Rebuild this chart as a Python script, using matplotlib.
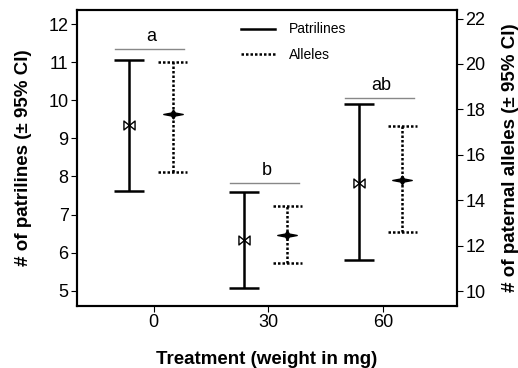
import matplotlib.pyplot as plt
import numpy as np
from matplotlib.path import Path
from matplotlib.lines import Line2D

plt.rcParams['font.family'] = ['Liberation Sans', 'DejaVu Sans']

# data
treatments = [0, 30, 60]
pat_mean = [9.34, 6.32, 7.83]
pat_low = [7.61, 5.07, 5.80]
pat_high = [11.06, 7.59, 9.89]
all_mean = [17.78, 12.46, 14.91]
all_low = [15.23, 11.22, 12.58]
all_high = [20.10, 13.74, 17.27]
letters = ['a', 'b', 'ab']
letter_y = [11.34, 7.84, 10.07]

# marker shapes
bowtie = Path([(-1, -0.8), (1, 0.8), (1, -0.8), (-1, 0.8), (-1, -0.8)],
              [Path.MOVETO, Path.LINETO, Path.LINETO, Path.LINETO, Path.CLOSEPOLY])
star4 = Path([(-1, 0), (-0.2, 0.15), (0, 0.45), (0.2, 0.15), (1, 0),
              (0.2, -0.15), (0, -0.45), (-0.2, -0.15), (-1, 0)],
             [Path.MOVETO] + [Path.LINETO] * 7 + [Path.CLOSEPOLY])

fig = plt.figure(figsize=(5.18, 3.68), dpi=100)
ax = fig.add_axes([0.1486, 0.1685, 0.7336, 0.8045])
ax2 = ax.twinx()

x = np.array(treatments, dtype=float)
pm = np.array(pat_mean)
am = np.array(all_mean)
dots = (0, (1, 0.8))

# patrilines, solid
ax.errorbar(x - 6.3, pm, yerr=[pm - np.array(pat_low), np.array(pat_high) - pm],
            fmt='none', ecolor='black', elinewidth=1.8, capsize=10.5, capthick=1.8)
ax.plot(x - 6.3, pm, linestyle='none', marker=bowtie, markersize=8,
        markerfacecolor='white', markeredgecolor='black', markeredgewidth=1.0, zorder=5)

# alleles, dotted (caps drawn as short dotted lines)
for xi, lo, hi in zip(x + 5, all_low, all_high):
    ax2.plot([xi, xi], [lo, hi], color='black', lw=1.8, linestyle=dots)
    ax2.plot([xi - 3.8, xi + 3.8], [lo, lo], color='black', lw=1.8, linestyle=dots)
    ax2.plot([xi - 3.8, xi + 3.8], [hi, hi], color='black', lw=1.8, linestyle=dots)
ax2.plot(x + 5, am, linestyle='none', marker=star4, markersize=14,
         markerfacecolor='black', markeredgecolor='black', zorder=5)

# significance groups
for xi, ly, lt in zip(x, letter_y, letters):
    ax.plot([xi - 10, xi + 8], [ly, ly], color='#888888', lw=1.0)
    ax.text(xi - 0.5, ly + 0.1, lt, ha='center', va='bottom', fontsize=13)

ax.set_xlim(-20, 79.3)
ax.set_ylim(4.6, 12.37)
ax2.set_ylim(9.34, 22.38)
ax.set_xticks(treatments)
ax.set_yticks(range(5, 13))
ax2.set_yticks(range(10, 23, 2))

for a in (ax, ax2):
    a.tick_params(direction='out', length=4, width=0.8, labelsize=13, pad=2)
    for s in a.spines.values():
        s.set_linewidth(1.5)

ax.set_xlabel('Treatment (weight in mg)', fontsize=13.5, fontweight='bold', labelpad=14)
ax.set_ylabel('# of patrilines (± 95% CI)', fontsize=13.5, fontweight='bold', labelpad=12)
ax2.set_ylabel('# of paternal alleles (± 95% CI)', fontsize=13.5, fontweight='bold', labelpad=12)

handles = [Line2D([], [], color='black', lw=1.8),
           Line2D([], [], color='black', lw=1.8, linestyle=dots)]
ax.legend(handles, ['Patrilines', 'Alleles'], loc='upper left', bbox_to_anchor=(0.40, 1.0),
          frameon=False, fontsize=10, handlelength=2.4, handletextpad=1.0, labelspacing=0.8)

fig.savefig('out.png', dpi=100)
